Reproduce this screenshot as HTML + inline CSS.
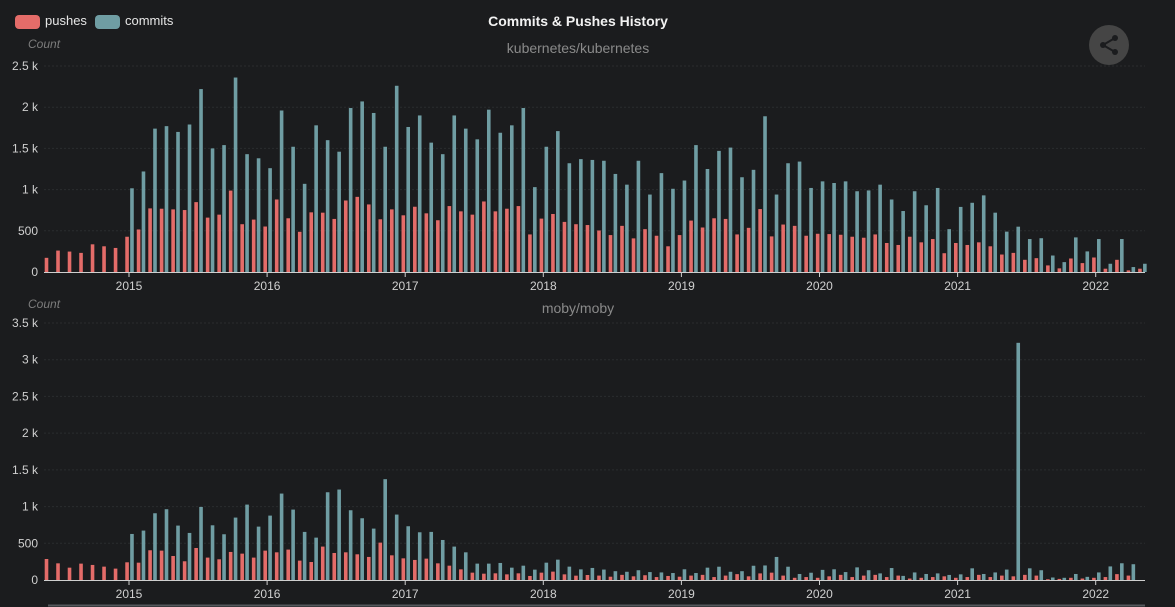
<!DOCTYPE html>
<html><head><meta charset="utf-8"><style>
html,body{margin:0;padding:0;background:#1b1c1e;width:1175px;height:607px;overflow:hidden}
svg{display:block;font-family:"Liberation Sans",sans-serif}
</style></head><body>
<svg id="s" width="1175" height="607" xmlns="http://www.w3.org/2000/svg">
<rect width="1175" height="607" fill="#1b1c1e"/>
<rect x="15" y="15" width="25" height="14" rx="4" fill="#e46c69"/>
<text x="45" y="25" fill="#e6e6e6" font-size="13">pushes</text>
<rect x="95" y="15" width="25" height="14" rx="4" fill="#6f9da3"/>
<text x="125" y="25" fill="#e6e6e6" font-size="13">commits</text>
<text x="578" y="26" fill="#f2f2f2" font-size="14" font-weight="bold" text-anchor="middle">Commits &amp; Pushes History</text>
<text x="578" y="53" fill="#8a8a8a" font-size="14" text-anchor="middle">kubernetes/kubernetes</text>
<text x="578" y="313" fill="#8a8a8a" font-size="14" text-anchor="middle">moby/moby</text>
<text x="28" y="48" fill="#7c7c7c" font-size="12" font-style="italic">Count</text>
<text x="28" y="308" fill="#7c7c7c" font-size="12" font-style="italic">Count</text>
<circle cx="1109" cy="45" r="20" fill="#454545"/>
<g stroke="#1b1c1e" stroke-width="2"><line x1="1103" y1="45" x2="1115" y2="38"/><line x1="1103" y1="45" x2="1115" y2="52"/></g>
<g fill="#1b1c1e"><circle cx="1103" cy="45" r="3"/><circle cx="1115" cy="38" r="3"/><circle cx="1115" cy="52" r="3"/></g>
<g id="g"></g>
</svg>
<script>
var NS="http://www.w3.org/2000/svg",g=document.getElementById("g");
function el(t,a,txt){var e=document.createElementNS(NS,t);for(var k in a)e.setAttribute(k,a[k]);if(txt!=null)e.textContent=txt;g.appendChild(e);return e;}
var kp=[172,260,248,232,336,312,292,
428,516,772,768,760,752,848,660,696,988,580,636,
552,880,652,488,724,720,644,868,912,820,640,760,
688,792,712,628,800,736,696,856,736,768,800,456,
648,704,608,580,570,504,448,560,408,520,440,312,
448,624,540,652,644,456,536,764,432,576,560,440,
464,460,452,428,416,456,352,328,428,360,400,228,
352,328,360,312,212,232,148,168,80,44,164,108,
176,40,148,20,40];
var kc=[0,0,0,0,0,0,0,
1016,1220,1740,1770,1700,1790,2220,1500,1540,2360,1430,1380,
1260,1960,1520,1070,1780,1600,1460,1990,2070,1930,1520,2260,
1760,1900,1570,1430,1900,1740,1610,1970,1690,1780,1990,1030,
1520,1710,1320,1370,1360,1350,1190,1060,1350,940,1200,1010,
1110,1540,1250,1470,1510,1150,1240,1890,940,1320,1340,1020,
1100,1080,1100,980,990,1060,880,740,980,810,1020,520,
790,840,930,720,490,550,400,410,200,120,420,250,
400,100,400,60,100];
var mp=[286,227,168,223,205,182,155,
241,236,405,400,327,255,436,305,282,382,359,305,
400,377,414,264,245,455,368,377,350,314,509,336,
295,273,291,227,195,145,100,86,91,77,91,55,
100,114,77,59,68,60,45,70,50,65,40,55,
45,60,70,40,60,80,50,90,100,60,30,40,
30,50,70,40,60,70,40,60,20,30,40,50,
30,40,70,40,60,50,70,60,10,15,30,20,
30,40,80,60];
var mc=[0,0,0,0,0,0,0,
627,673,909,964,741,641,995,745,623,850,1027,727,
877,1177,959,655,577,1195,1232,950,841,700,1373,891,
732,650,655,545,455,377,223,223,232,168,195,141,
236,277,182,145,164,142,120,112,133,108,103,95,
146,95,168,181,112,120,194,198,314,181,82,99,
138,146,108,172,133,90,163,56,103,82,90,69,
77,159,82,103,142,3230,159,133,34,30,82,43,
103,185,228,215];
function cx(i){return 49+i*11.51;}
function chart(y0,ppk,maxk,step,labels,P,C){
  // grid
  for(var v=0;v<=maxk+1e-9;v+=step){
    var y=y0-v*ppk;
    if(v>0)el("line",{x1:44,x2:1145,y1:y,y2:y,stroke:"#2b2c2f","stroke-dasharray":"2,2"});
    el("text",{x:38,y:y+4,fill:"#d0d0d0","font-size":"12","text-anchor":"end"},labels[Math.round(v/step)]);
  }
  for(var i=0;i<P.length;i++){
    var h=P[i]/1000*ppk;
    if(h>0)el("rect",{x:cx(i)-4.3,y:y0-h,width:3.6,height:h,fill:"#e46c69"});
    h=C[i]/1000*ppk;
    if(h>0)el("rect",{x:cx(i)+0.6,y:y0-h,width:3.6,height:h,fill:"#6f9da3"});
  }
  el("line",{x1:44,x2:1145,y1:y0+0.5,y2:y0+0.5,stroke:"#cfcfcf","stroke-width":1});
  for(var yr=2015;yr<=2022;yr++){
    var x=129+(yr-2015)*138.1;
    el("line",{x1:x,x2:x,y1:y0,y2:y0+5,stroke:"#cfcfcf"});
    el("text",{x:x,y:y0+18,fill:"#d0d0d0","font-size":"12","text-anchor":"middle"},yr);
  }
}
chart(272,82.4,2.5,0.5,["0","500","1 k","1.5 k","2 k","2.5 k"],kp,kc);
chart(580,73.43,3.5,0.5,["0","500","1 k","1.5 k","2 k","2.5 k","3 k","3.5 k"],mp,mc);
el("line",{x1:48,x2:1145,y1:605.5,y2:605.5,stroke:"#55585c","stroke-width":2});
</script>
</body></html>
